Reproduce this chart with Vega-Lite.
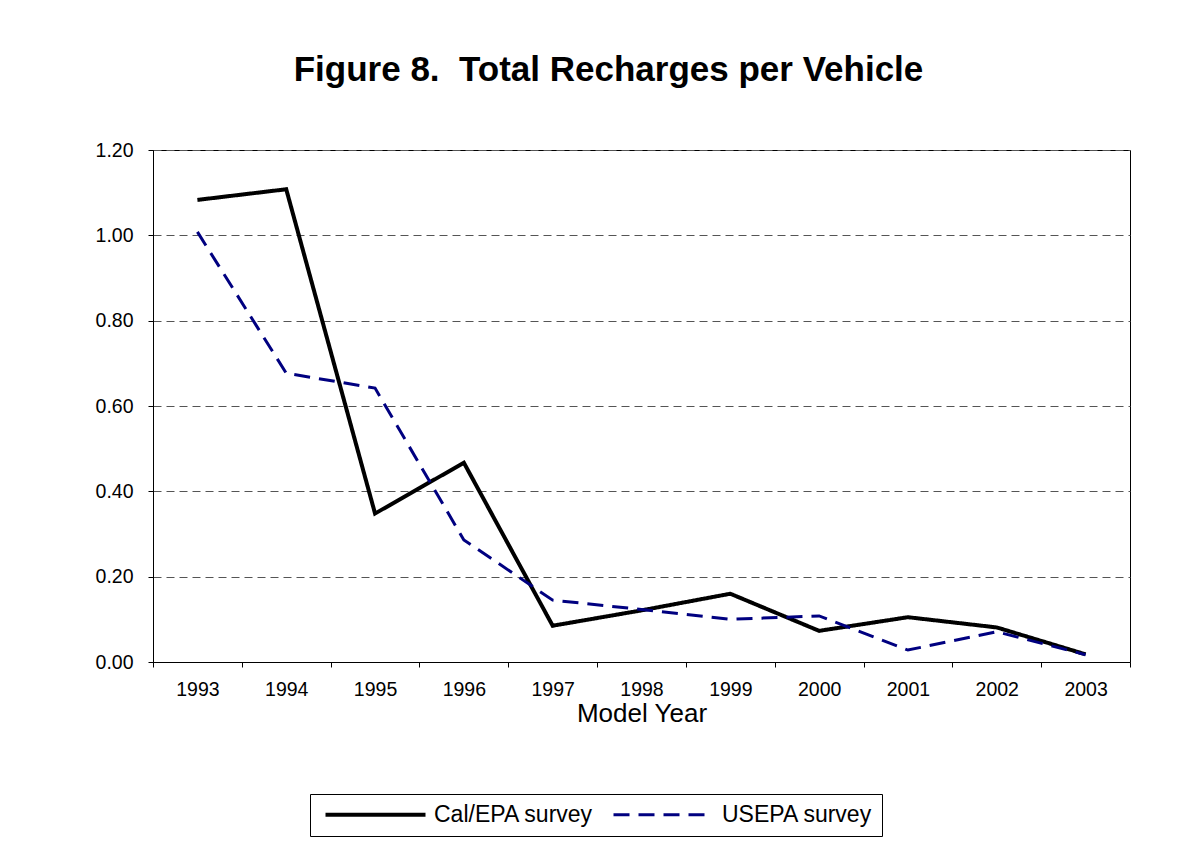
{
  "$schema": "https://vega.github.io/schema/vega-lite/v6.json",
  "width": 977,
  "height": 512,
  "autosize": {"type": "none"},
  "padding": {"left": 153, "top": 150, "right": 63, "bottom": 198},
  "background": "white",
  "title": {
    "text": "Figure 8.\u00a0 Total Recharges per Vehicle",
    "font": "Liberation Sans",
    "fontSize": 35,
    "fontWeight": "bold",
    "color": "black",
    "anchor": "middle",
    "frame": "group",
    "baseline": "alphabetic",
    "offset": 24,
    "dx": -33
  },
  "data": {
    "values": [
      {"year": "1993", "series": "Cal/EPA survey", "value": 1.083},
      {"year": "1994", "series": "Cal/EPA survey", "value": 1.108},
      {"year": "1995", "series": "Cal/EPA survey", "value": 0.348},
      {"year": "1996", "series": "Cal/EPA survey", "value": 0.467},
      {"year": "1997", "series": "Cal/EPA survey", "value": 0.085},
      {"year": "1998", "series": "Cal/EPA survey", "value": 0.121},
      {"year": "1999", "series": "Cal/EPA survey", "value": 0.160},
      {"year": "2000", "series": "Cal/EPA survey", "value": 0.073},
      {"year": "2001", "series": "Cal/EPA survey", "value": 0.105},
      {"year": "2002", "series": "Cal/EPA survey", "value": 0.081},
      {"year": "2003", "series": "Cal/EPA survey", "value": 0.018},
      {"year": "1993", "series": "USEPA survey", "value": 1.008},
      {"year": "1994", "series": "USEPA survey", "value": 0.677},
      {"year": "1995", "series": "USEPA survey", "value": 0.642},
      {"year": "1996", "series": "USEPA survey", "value": 0.286},
      {"year": "1997", "series": "USEPA survey", "value": 0.145},
      {"year": "1998", "series": "USEPA survey", "value": 0.123},
      {"year": "1999", "series": "USEPA survey", "value": 0.100},
      {"year": "2000", "series": "USEPA survey", "value": 0.108},
      {"year": "2001", "series": "USEPA survey", "value": 0.028},
      {"year": "2002", "series": "USEPA survey", "value": 0.071},
      {"year": "2003", "series": "USEPA survey", "value": 0.017}
    ]
  },
  "mark": {"type": "line", "strokeCap": "butt", "strokeJoin": "miter"},
  "encoding": {
    "x": {
      "field": "year",
      "type": "ordinal",
      "scale": {"type": "band", "paddingInner": 0, "paddingOuter": 0},
      "axis": {
        "title": "Model Year",
        "titleFont": "Liberation Sans",
        "titleFontSize": 26,
        "titleFontWeight": "normal",
        "titleColor": "black",
        "titlePadding": 2,
        "labelFont": "Liberation Sans",
        "labelFontSize": 19.5,
        "labelColor": "black",
        "labelAngle": 0,
        "labelPadding": 13,
        "tickBand": "extent",
        "tickSize": 5,
        "tickColor": "black",
        "domainColor": "black",
        "grid": false
      }
    },
    "y": {
      "field": "value",
      "type": "quantitative",
      "scale": {"domain": [0, 1.2], "nice": false},
      "axis": {
        "title": null,
        "values": [0, 0.2, 0.4, 0.6, 0.8, 1.0, 1.2],
        "format": ".2f",
        "labelFont": "Liberation Sans",
        "labelFontSize": 19.5,
        "labelColor": "black",
        "labelPadding": 15,
        "tickSize": 5,
        "tickColor": "black",
        "domainColor": "black",
        "grid": true,
        "gridColor": "#555555",
        "gridDash": [8, 5],
        "gridWidth": 1
      }
    },
    "color": {
      "field": "series",
      "type": "nominal",
      "scale": {"domain": ["Cal/EPA survey", "USEPA survey"], "range": ["#000000", "#000080"]},
      "legend": {
        "title": null,
        "orient": "none",
        "legendX": 157,
        "legendY": 644,
        "direction": "horizontal",
        "strokeColor": "black",
        "padding": 9,
        "symbolType": "M-1,0H19",
        "symbolSize": 100,
        "labelFont": "Liberation Sans",
        "labelFontSize": 23,
        "labelColor": "black",
        "labelOffset": 92,
        "labelLimit": 400,
        "columnPadding": 13
      }
    },
    "strokeDash": {
      "field": "series",
      "type": "nominal",
      "scale": {"domain": ["Cal/EPA survey", "USEPA survey"], "range": [[1, 0], [16, 9]]}
    },
    "strokeWidth": {
      "field": "series",
      "type": "nominal",
      "scale": {"domain": ["Cal/EPA survey", "USEPA survey"], "range": [4, 3]}
    }
  },
  "config": {
    "view": {"stroke": "black", "strokeWidth": 1}
  }
}
